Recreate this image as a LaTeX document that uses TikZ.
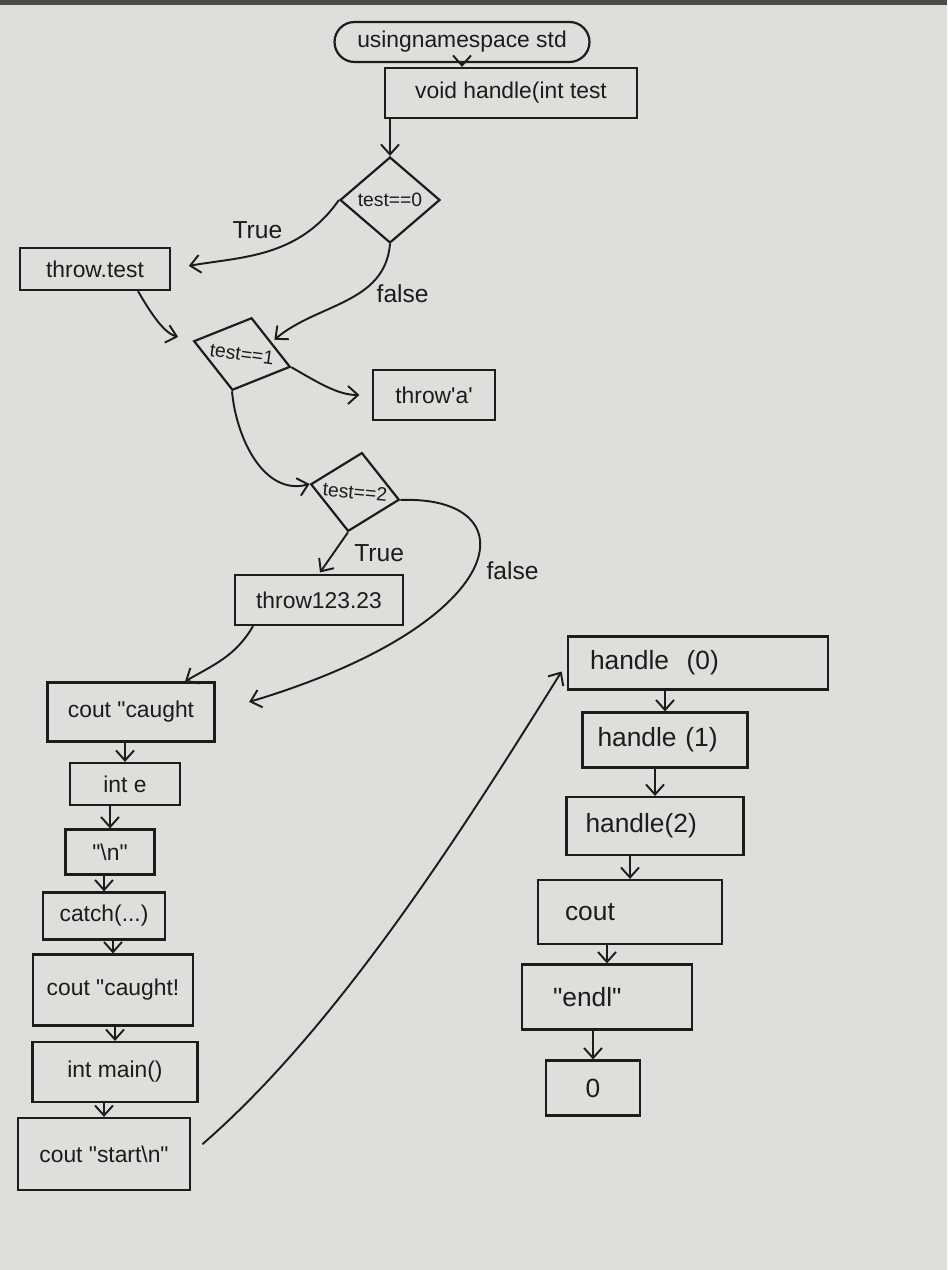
\documentclass[tikz,border=0pt]{standalone}
\usepackage{fontspec}
\setmainfont{Liberation Sans}[Ligatures=TeXOff]
\usetikzlibrary{shapes.geometric,arrows.meta}
\definecolor{paper}{RGB}{222,222,219}
\definecolor{ink}{RGB}{28,28,28}
\begin{document}
\begin{tikzpicture}[x=0.02cm,y=0.02cm,
  box/.style={draw=ink,line width=1.25pt,inner sep=2pt,text=ink,font=\fontsize{13}{15}\selectfont},
  hbox/.style={box,font=\fontsize{15}{17}\selectfont,align=left},
  dia/.style={draw=ink,diamond,line width=1.25pt,inner sep=0pt,text=ink},
  dlab/.style={text=ink,font=\fontsize{11}{13}\selectfont},
  arr/.style={draw=ink,line width=1.1pt,-{Straight Barb[length=2mm,width=3.6mm]}},
  lab/.style={text=ink,font=\fontsize{14}{16}\selectfont}]
\fill[paper] (0,0) rectangle (947,-1270);
\useasboundingbox (0,0) rectangle (947,-1270);
\fill[black!70] (0,0) rectangle (947,-5);

% nodes
\node[box,rounded corners=0.4cm,minimum width=5.1cm,minimum height=0.8cm] (ns) at (462,-42) {usingnamespace std};
\node[box,minimum width=5.04cm,minimum height=1cm] (void) at (511,-93) {void handle(int test};
\node[dia,minimum width=2cm,minimum height=1.72cm,label={[dlab]center:test==0}] (d0) at (390,-200) {};
\node[box,minimum width=3cm,minimum height=0.84cm] (tt) at (95,-269) {throw.test};
\node[dia,minimum width=2cm,minimum height=1.5cm,rotate=-15,label={[dlab,rotate=-8]center:test==1}] (d1) at (242,-354) {};
\node[box,minimum width=2.44cm,minimum height=1cm] (ta) at (434,-395) {throw'a'};
\node[dia,minimum width=1.8cm,minimum height=1.6cm,rotate=-10,label={[dlab,rotate=-5]center:test==2}] (d2) at (355,-492) {};
\node[box,minimum width=3.36cm,minimum height=1cm] (t123) at (319,-600) {throw123.23};
\node[box,minimum width=3.34cm,minimum height=1.18cm] (cc1) at (131,-712) {cout "caught};
\node[box,minimum width=2.2cm,minimum height=0.84cm] (ie) at (125,-784) {int e};
\node[box,minimum width=1.78cm,minimum height=0.9cm] (nl) at (110,-852) {"\textbackslash n"};
\node[box,minimum width=2.44cm,minimum height=0.94cm] (catch) at (104,-916) {catch(...)};
\node[box,minimum width=3.2cm,minimum height=1.42cm] (cc2) at (113,-990) {cout "caught!};
\node[box,minimum width=3.3cm,minimum height=1.2cm] (im) at (115,-1072) {int main()};
\node[box,minimum width=3.44cm,minimum height=1.44cm] (cs) at (104,-1154) {cout "start\textbackslash n"};

\node[hbox,minimum height=1.06cm,inner xsep=0.44cm,text width=4.32cm] (h0) at (698,-663) {handle\ \ (0)};
\node[hbox,minimum height=1.1cm,inner xsep=0.3cm,text width=2.7cm] (h1) at (665,-740) {handle (1)};
\node[hbox,minimum height=1.16cm,inner xsep=0.38cm,text width=2.78cm] (h2) at (655,-826) {handle(2)};
\node[hbox,minimum height=1.28cm,inner xsep=0.54cm,text width=2.6cm,text depth=-0.2cm] (co) at (630,-912) {cout};
\node[hbox,minimum height=1.3cm,inner xsep=0.62cm,text width=2.16cm] (en) at (607,-997) {"endl"};
\node[hbox,minimum width=1.88cm,minimum height=1.1cm,text depth=-0.15cm] (zero) at (593,-1088) {0};

% connectors
\draw[arr] (ns.south) -- (ns.south |- void.north);
\draw[arr] (void.south -| d0.north) -- (d0.north);
\draw[arr,shorten >=0.36cm] (d0.west) to[out=235,in=10] node[lab,above=5pt,pos=0.55]{True} (tt.east);
\draw[arr,shorten >=2pt] (d0.south) to[out=-95,in=40] node[lab,right=6pt,pos=0.4]{false} (d1.north east);
\draw[arr,shorten >=0.3cm] ([xshift=0.86cm]tt.south) to[out=-60,in=165] (d1.west);
\draw[arr,shorten >=0.25cm] (d1.east) to[out=-30,in=180] (ta.west);
\draw[arr] (d1.south) to[out=-85,in=195] (d2.west);
\draw[arr,shorten >=1pt] (d2.south) -- node[lab,right=8pt]{True} (t123.north);
\draw[arr,shorten >=0.7cm] (d2.east) .. controls +(130,5) and +(300,90) .. node[lab,right=6pt,pos=0.5]{false} (cc1.east);
\draw[arr] ([xshift=-1.32cm]t123.south) to[out=-120,in=30] ([xshift=1.08cm]cc1.north);
\draw[arr] (cc1.south -| ie.north) -- (ie.north);
\draw[arr] (ie.south -| nl.north) -- (nl.north);
\draw[arr] (nl.south -| catch.north) -- (catch.north);
\draw[arr] (catch.south -| cc2.north) -- (cc2.north);
\draw[arr] (cc2.south -| im.north) -- (im.north);
\draw[arr] (im.south -| cs.north) -- (cs.north);
\draw[arr,shorten <=0.3cm,shorten >=0.2cm] (cs.east) .. controls +(150,130) and +(-100,-160) .. (h0.west);
\draw[arr] (h0.south -| h1.north) -- (h1.north);
\draw[arr] (h1.south -| h2.north) -- (h2.north);
\draw[arr] (h2.south -| co.north) -- (co.north);
\draw[arr] (co.south -| en.north) -- (en.north);
\draw[arr] (en.south -| zero.north) -- (zero.north);
\end{tikzpicture}
\end{document}
